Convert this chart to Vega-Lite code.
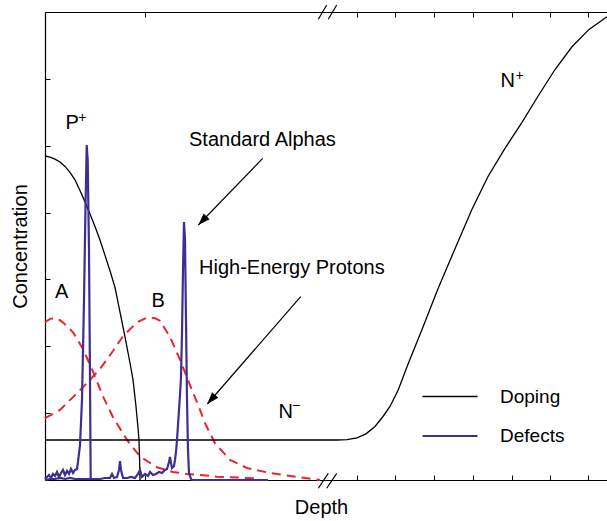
{
  "$schema": "https://vega.github.io/schema/vega-lite/v6.json",
  "width": 562,
  "height": 468,
  "autosize": {"type": "none"},
  "padding": {"left": 45, "top": 12, "right": 0, "bottom": 41},
  "background": "white",
  "config": {
    "view": {"stroke": null},
    "font": "Liberation Sans",
    "axis": {
      "grid": false,
      "labels": false,
      "domainColor": "#000000",
      "tickColor": "#000000",
      "domainWidth": 1.2,
      "tickWidth": 1,
      "tickSize": -5,
      "titleFontSize": 20,
      "titleFontWeight": "normal",
      "titleColor": "#000000",
      "titleFont": "Liberation Sans"
    }
  },
  "datasets": {
    "implant": [
      {"series": "A", "x": 0, "y": 2.36}, {"series": "A", "x": 5, "y": 2.41}, {"series": "A", "x": 10, "y": 2.42},
      {"series": "A", "x": 15, "y": 2.39}, {"series": "A", "x": 20, "y": 2.33}, {"series": "A", "x": 28, "y": 2.21},
      {"series": "A", "x": 38, "y": 1.96}, {"series": "A", "x": 48, "y": 1.62}, {"series": "A", "x": 58, "y": 1.25},
      {"series": "A", "x": 68, "y": 0.94}, {"series": "A", "x": 82, "y": 0.6}, {"series": "A", "x": 95, "y": 0.35},
      {"series": "A", "x": 112, "y": 0.19}, {"series": "A", "x": 128, "y": 0.12}, {"series": "A", "x": 142, "y": 0.09},
      {"series": "A", "x": 155, "y": 0.075}, {"series": "A", "x": 172, "y": 0.05}, {"series": "A", "x": 195, "y": 0.035},
      {"series": "A", "x": 215, "y": 0.02},
      {"series": "B", "x": 0, "y": 0.927}, {"series": "B", "x": 15, "y": 1.047}, {"series": "B", "x": 28, "y": 1.24},
      {"series": "B", "x": 42, "y": 1.45}, {"series": "B", "x": 55, "y": 1.66}, {"series": "B", "x": 68, "y": 1.93},
      {"series": "B", "x": 78, "y": 2.15}, {"series": "B", "x": 92, "y": 2.36}, {"series": "B", "x": 102, "y": 2.43},
      {"series": "B", "x": 110, "y": 2.42}, {"series": "B", "x": 115, "y": 2.38}, {"series": "B", "x": 125, "y": 2.14},
      {"series": "B", "x": 135, "y": 1.8}, {"series": "B", "x": 145, "y": 1.42}, {"series": "B", "x": 155, "y": 1.05},
      {"series": "B", "x": 160, "y": 0.85}, {"series": "B", "x": 170, "y": 0.55}, {"series": "B", "x": 185, "y": 0.3},
      {"series": "B", "x": 202, "y": 0.18}, {"series": "B", "x": 225, "y": 0.105}, {"series": "B", "x": 252, "y": 0.045},
      {"series": "B", "x": 275, "y": 0}
    ],
    "lines": [
      {"series": "Doping", "seg": "P", "x": 0, "y": 4.846}, {"series": "Doping", "seg": "P", "x": 5, "y": 4.83},
      {"series": "Doping", "seg": "P", "x": 10, "y": 4.8}, {"series": "Doping", "seg": "P", "x": 15, "y": 4.756},
      {"series": "Doping", "seg": "P", "x": 20, "y": 4.69}, {"series": "Doping", "seg": "P", "x": 25, "y": 4.6},
      {"series": "Doping", "seg": "P", "x": 30, "y": 4.49}, {"series": "Doping", "seg": "P", "x": 35, "y": 4.33},
      {"series": "Doping", "seg": "P", "x": 40, "y": 4.16}, {"series": "Doping", "seg": "P", "x": 45, "y": 3.98},
      {"series": "Doping", "seg": "P", "x": 50, "y": 3.79}, {"series": "Doping", "seg": "P", "x": 55, "y": 3.59},
      {"series": "Doping", "seg": "P", "x": 60, "y": 3.36}, {"series": "Doping", "seg": "P", "x": 65, "y": 3.13},
      {"series": "Doping", "seg": "P", "x": 70, "y": 2.88}, {"series": "Doping", "seg": "P", "x": 75, "y": 2.51},
      {"series": "Doping", "seg": "P", "x": 80, "y": 2.14}, {"series": "Doping", "seg": "P", "x": 85, "y": 1.75},
      {"series": "Doping", "seg": "P", "x": 88, "y": 1.5}, {"series": "Doping", "seg": "P", "x": 91, "y": 1.1},
      {"series": "Doping", "seg": "P", "x": 93, "y": 0.78}, {"series": "Doping", "seg": "P", "x": 94, "y": 0.598},
      {"series": "Doping", "seg": "P", "x": 94.6, "y": 0.3}, {"series": "Doping", "seg": "P", "x": 95, "y": 0},
      {"series": "Doping", "seg": "N", "x": 0, "y": 0.598}, {"series": "Doping", "seg": "N", "x": 292, "y": 0.598},
      {"series": "Doping", "seg": "N", "x": 302, "y": 0.605}, {"series": "Doping", "seg": "N", "x": 312, "y": 0.63},
      {"series": "Doping", "seg": "N", "x": 321, "y": 0.69}, {"series": "Doping", "seg": "N", "x": 330, "y": 0.8},
      {"series": "Doping", "seg": "N", "x": 338, "y": 0.95}, {"series": "Doping", "seg": "N", "x": 345, "y": 1.1},
      {"series": "Doping", "seg": "N", "x": 353, "y": 1.34}, {"series": "Doping", "seg": "N", "x": 363, "y": 1.73},
      {"series": "Doping", "seg": "N", "x": 377, "y": 2.25}, {"series": "Doping", "seg": "N", "x": 393, "y": 2.86},
      {"series": "Doping", "seg": "N", "x": 410, "y": 3.46}, {"series": "Doping", "seg": "N", "x": 427, "y": 4.05},
      {"series": "Doping", "seg": "N", "x": 443, "y": 4.54}, {"series": "Doping", "seg": "N", "x": 460, "y": 4.96},
      {"series": "Doping", "seg": "N", "x": 477, "y": 5.35}, {"series": "Doping", "seg": "N", "x": 493, "y": 5.74},
      {"series": "Doping", "seg": "N", "x": 510, "y": 6.14}, {"series": "Doping", "seg": "N", "x": 527, "y": 6.48},
      {"series": "Doping", "seg": "N", "x": 544, "y": 6.74}, {"series": "Doping", "seg": "N", "x": 562, "y": 6.93},
      {"series": "Defects", "seg": "D1", "x": 0, "y": 0.015}, {"series": "Defects", "seg": "D1", "x": 2, "y": 0.045},
      {"series": "Defects", "seg": "D1", "x": 4, "y": 0.075}, {"series": "Defects", "seg": "D1", "x": 6, "y": 0.03},
      {"series": "Defects", "seg": "D1", "x": 8, "y": 0.09}, {"series": "Defects", "seg": "D1", "x": 10, "y": 0.06},
      {"series": "Defects", "seg": "D1", "x": 12, "y": 0.12}, {"series": "Defects", "seg": "D1", "x": 14, "y": 0.045},
      {"series": "Defects", "seg": "D1", "x": 16, "y": 0.105}, {"series": "Defects", "seg": "D1", "x": 18, "y": 0.15},
      {"series": "Defects", "seg": "D1", "x": 20, "y": 0.075}, {"series": "Defects", "seg": "D1", "x": 22, "y": 0.135},
      {"series": "Defects", "seg": "D1", "x": 24, "y": 0.09}, {"series": "Defects", "seg": "D1", "x": 26, "y": 0.165},
      {"series": "Defects", "seg": "D1", "x": 28, "y": 0.105}, {"series": "Defects", "seg": "D1", "x": 30, "y": 0.15},
      {"series": "Defects", "seg": "D1", "x": 32, "y": 0.165}, {"series": "Defects", "seg": "D1", "x": 33, "y": 0.27},
      {"series": "Defects", "seg": "D1", "x": 35, "y": 0.523}, {"series": "Defects", "seg": "D1", "x": 37, "y": 1.197},
      {"series": "Defects", "seg": "D1", "x": 39, "y": 2.692}, {"series": "Defects", "seg": "D1", "x": 40.5, "y": 4.083},
      {"series": "Defects", "seg": "D1", "x": 41.7, "y": 5.011}, {"series": "Defects", "seg": "D1", "x": 42.7, "y": 4.786},
      {"series": "Defects", "seg": "D1", "x": 44, "y": 3.44}, {"series": "Defects", "seg": "D1", "x": 45, "y": 1.496},
      {"series": "Defects", "seg": "D1", "x": 45.7, "y": 0.015},
      {"series": "Defects", "seg": "D2", "x": 0, "y": 0}, {"series": "Defects", "seg": "D2", "x": 5, "y": 0.015},
      {"series": "Defects", "seg": "D2", "x": 10, "y": 0.015}, {"series": "Defects", "seg": "D2", "x": 15, "y": 0.03},
      {"series": "Defects", "seg": "D2", "x": 20, "y": 0.015}, {"series": "Defects", "seg": "D2", "x": 25, "y": 0.03},
      {"series": "Defects", "seg": "D2", "x": 30, "y": 0.015}, {"series": "Defects", "seg": "D2", "x": 35, "y": 0.015},
      {"series": "Defects", "seg": "D2", "x": 40, "y": 0.015}, {"series": "Defects", "seg": "D2", "x": 45, "y": 0.015},
      {"series": "Defects", "seg": "D2", "x": 50, "y": 0.015}, {"series": "Defects", "seg": "D2", "x": 55, "y": 0.015},
      {"series": "Defects", "seg": "D2", "x": 60, "y": 0.03}, {"series": "Defects", "seg": "D2", "x": 65, "y": 0.03},
      {"series": "Defects", "seg": "D2", "x": 67, "y": 0.09}, {"series": "Defects", "seg": "D2", "x": 69, "y": 0.03},
      {"series": "Defects", "seg": "D2", "x": 72, "y": 0.045}, {"series": "Defects", "seg": "D2", "x": 74, "y": 0.15},
      {"series": "Defects", "seg": "D2", "x": 75, "y": 0.284}, {"series": "Defects", "seg": "D2", "x": 76, "y": 0.15},
      {"series": "Defects", "seg": "D2", "x": 78, "y": 0.03}, {"series": "Defects", "seg": "D2", "x": 82, "y": 0.03},
      {"series": "Defects", "seg": "D2", "x": 86, "y": 0.045}, {"series": "Defects", "seg": "D2", "x": 90, "y": 0.03},
      {"series": "Defects", "seg": "D2", "x": 93, "y": 0.09}, {"series": "Defects", "seg": "D2", "x": 95, "y": 0.15},
      {"series": "Defects", "seg": "D2", "x": 97, "y": 0.045}, {"series": "Defects", "seg": "D2", "x": 100, "y": 0.09},
      {"series": "Defects", "seg": "D2", "x": 103, "y": 0.06}, {"series": "Defects", "seg": "D2", "x": 105, "y": 0.12},
      {"series": "Defects", "seg": "D2", "x": 108, "y": 0.075}, {"series": "Defects", "seg": "D2", "x": 111, "y": 0.09},
      {"series": "Defects", "seg": "D2", "x": 114, "y": 0.12}, {"series": "Defects", "seg": "D2", "x": 117, "y": 0.105},
      {"series": "Defects", "seg": "D2", "x": 120, "y": 0.15}, {"series": "Defects", "seg": "D2", "x": 122, "y": 0.165},
      {"series": "Defects", "seg": "D2", "x": 124, "y": 0.27}, {"series": "Defects", "seg": "D2", "x": 125, "y": 0.344},
      {"series": "Defects", "seg": "D2", "x": 126, "y": 0.254}, {"series": "Defects", "seg": "D2", "x": 127, "y": 0.18},
      {"series": "Defects", "seg": "D2", "x": 129, "y": 0.21}, {"series": "Defects", "seg": "D2", "x": 130, "y": 0.3},
      {"series": "Defects", "seg": "D2", "x": 131, "y": 0.419}, {"series": "Defects", "seg": "D2", "x": 132, "y": 0.598},
      {"series": "Defects", "seg": "D2", "x": 133, "y": 0.823}, {"series": "Defects", "seg": "D2", "x": 134, "y": 1.047},
      {"series": "Defects", "seg": "D2", "x": 135, "y": 1.271}, {"series": "Defects", "seg": "D2", "x": 136, "y": 1.54},
      {"series": "Defects", "seg": "D2", "x": 137, "y": 2.199}, {"series": "Defects", "seg": "D2", "x": 138, "y": 3.141},
      {"series": "Defects", "seg": "D2", "x": 139, "y": 3.859}, {"series": "Defects", "seg": "D2", "x": 140, "y": 3.59},
      {"series": "Defects", "seg": "D2", "x": 141, "y": 2.393}, {"series": "Defects", "seg": "D2", "x": 142, "y": 1.197},
      {"series": "Defects", "seg": "D2", "x": 143, "y": 0.449}, {"series": "Defects", "seg": "D2", "x": 144, "y": 0.105},
      {"series": "Defects", "seg": "D2", "x": 146, "y": 0.015}, {"series": "Defects", "seg": "D2", "x": 147, "y": 0},
      {"series": "Defects", "seg": "D2", "x": 223, "y": 0}
    ],
    "breaks": [
      {"x": 273.3, "y": -0.124, "x2": 283.3, "y2": 0.1},
      {"x": 281.7, "y": -0.124, "x2": 291.7, "y2": 0.1},
      {"x": 273.3, "y": 6.891, "x2": 281.7, "y2": 7.104},
      {"x": 283.3, "y": 6.891, "x2": 291.7, "y2": 7.104}
    ],
    "arrows": [
      {"id": "alpha", "x": 217.7, "y": 4.811, "x2": 153.3, "y2": 3.814},
      {"id": "proton", "x": 255.7, "y": 2.742, "x2": 162.3, "y2": 1.137}
    ],
    "heads": [
      {"id": "alpha", "x": 153.3, "y": 3.814},
      {"id": "proton", "x": 162.3, "y": 1.137}
    ],
    "labels": [
      {"text": "P", "x": 20.5, "y": 5.25},
      {"text": "A", "x": 10, "y": 2.72},
      {"text": "B", "x": 106.5, "y": 2.587},
      {"text": "Standard Alphas", "x": 144, "y": 4.995},
      {"text": "High-Energy Protons", "x": 154, "y": 3.081},
      {"text": "N", "x": 233.5, "y": 0.927},
      {"text": "N", "x": 455.5, "y": 5.878}
    ],
    "sups": [
      {"text": "+", "x": 33.3, "y": 5.36},
      {"text": "−", "x": 247, "y": 1.05},
      {"text": "+", "x": 470.5, "y": 5.984}
    ]
  },
  "encoding": {
    "x": {"field": "x", "type": "quantitative", "scale": {"domain": [0, 562], "nice": false, "zero": false}, "axis": null},
    "y": {"field": "y", "type": "quantitative", "scale": {"domain": [0, 7], "nice": false, "zero": false},
          "axis": {"title": "Concentration", "titlePadding": 14, "values": [0, 1, 2, 3, 4, 5, 6, 7]}}
  },
  "layer": [
    {
      "data": {"name": "implant"},
      "mark": {"type": "line", "color": "#ec2330", "strokeWidth": 2, "strokeDash": [9, 6]},
      "encoding": {
        "x": {"field": "x", "type": "quantitative", "scale": {"domain": [0, 562], "nice": false, "zero": false},
              "axis": {"orient": "top", "title": null, "values": [100, 312, 350, 389, 428, 467, 505, 543]}},
        "detail": {"field": "series"}
      }
    },
    {
      "data": {"name": "lines"},
      "mark": {"type": "line"},
      "encoding": {
        "x": {"field": "x", "type": "quantitative", "scale": {"domain": [0, 562], "nice": false, "zero": false},
              "axis": {"orient": "bottom", "title": "Depth", "titlePadding": 17, "titleX": 276, "values": [100, 312, 350, 389, 428, 467, 505, 543]}},
        "color": {
          "field": "series", "type": "nominal",
          "scale": {"domain": ["Doping", "Defects"], "range": ["#000000", "#3f2d91"]},
          "legend": {
            "title": null, "orient": "none", "legendX": 376, "legendY": 356,
            "symbolType": "stroke", "symbolSize": 3025, "symbolStrokeWidth": 1.6,
            "labelFontSize": 19, "labelFont": "Liberation Sans", "labelColor": "#000000",
            "labelOffset": 21, "rowPadding": -19, "padding": 0
          }
        },
        "strokeWidth": {
          "field": "series", "type": "nominal",
          "scale": {"domain": ["Doping", "Defects"], "range": [1.3, 2.2]},
          "legend": null
        },
        "detail": {"field": "seg"}
      }
    },
    {
      "data": {"name": "breaks"},
      "mark": {"type": "rule", "color": "#000000", "strokeWidth": 1.2},
      "encoding": {"x2": {"field": "x2"}, "y2": {"field": "y2"}}
    },
    {
      "data": {"name": "arrows"},
      "mark": {"type": "rule", "color": "#000000", "strokeWidth": 1.2},
      "encoding": {"x2": {"field": "x2"}, "y2": {"field": "y2"}}
    },
    {
      "data": {"name": "heads"},
      "transform": [{"filter": "datum.id === 'alpha'"}],
      "mark": {"type": "point", "shape": "M0,0L-0.7,2L0.7,2Z", "size": 144, "filled": true, "color": "#000000", "opacity": 1, "angle": 224}
    },
    {
      "data": {"name": "heads"},
      "transform": [{"filter": "datum.id === 'proton'"}],
      "mark": {"type": "point", "shape": "M0,0L-0.7,2L0.7,2Z", "size": 144, "filled": true, "color": "#000000", "opacity": 1, "angle": 221}
    },
    {
      "data": {"name": "labels"},
      "mark": {"type": "text", "align": "left", "baseline": "alphabetic", "fontSize": 20, "font": "Liberation Sans", "color": "#000000"},
      "encoding": {"text": {"field": "text"}}
    },
    {
      "data": {"name": "sups"},
      "mark": {"type": "text", "align": "left", "baseline": "alphabetic", "fontSize": 14, "font": "Liberation Sans", "color": "#000000"},
      "encoding": {"text": {"field": "text"}}
    }
  ]
}
